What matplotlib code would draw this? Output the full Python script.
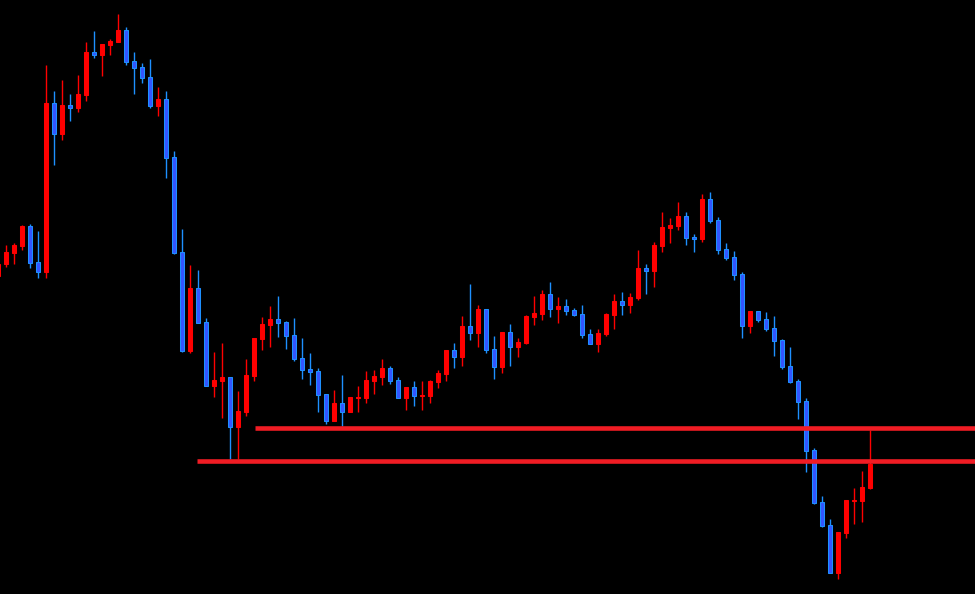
import matplotlib
matplotlib.use("Agg")
import matplotlib.pyplot as plt
import numpy as np

# OHLC values (price units)
opens = [324, 336.3, 347.3, 354.3, 374, 337.7, 328.3, 497, 466.3, 495, 492.3, 505, 548, 545.3, 555.3,
         558.3, 570, 539, 533, 523, 494.3, 501, 443, 348, 249.3, 312, 278, 214.3, 219.3, 223, 173.3,
         188.3, 224.3, 261.3, 275.3, 281, 278, 265, 242, 231, 229, 206, 179.3, 197, 188.3, 202.3,
         202.3, 219.3, 223.3, 232, 220, 202.3, 213, 204.3, 204.3, 218.3, 226.3, 250, 243.3, 274,
         267.3, 291, 251, 233.3, 268, 253.3, 257.3, 283.3, 286.3, 306, 291.3, 294, 290, 286, 266,
         256.3, 266.3, 285.3, 299, 295.3, 302.3, 332, 329.3, 354.3, 372.3, 374.3, 384, 363, 361.3,
         401, 380, 351, 343, 326, 274.3, 289, 281, 272, 260, 234, 219, 199, 150, 98, 75, 26.7, 67.3,
         99.3, 99.3, 112.3]
highs = [338, 354.7, 357, 375, 376, 369, 535, 509, 520, 506, 525, 558, 569, 556, 561,
         586, 573, 548, 537, 541, 513, 509, 449, 371, 335, 330, 282, 248, 257, 223, 209,
         241, 262, 283, 294, 304, 279, 282, 262, 247, 232, 206, 210, 225, 203, 214,
         229, 230, 241, 234, 223, 213, 219, 219, 220, 230, 250, 257, 284, 316,
         295, 291, 264, 268, 276, 262, 285, 304, 310, 318, 303, 301, 292, 295, 271,
         271, 287, 306, 308, 307, 350, 336, 358, 388, 382, 398, 388, 366, 406,
         408, 383, 357, 349, 328, 289, 289, 288, 284, 261, 253, 221, 202, 152, 104, 81, 68, 100,
         112, 129, 170]
lows = [320, 333.3, 336.3, 350.3, 332.3, 322.3, 322.3, 435.3, 460.3, 479.3, 488.3, 499.3, 542.3, 524.3, 545.3,
        558.3, 535.3, 506.3, 517.3, 492.3, 484.3, 422.3, 346.3, 248.3, 247.3, 277.3, 214.3, 203, 182.3, 141, 141,
        184.3, 219.3, 250.3, 253.3, 263.3, 251.3, 239.3, 221.3, 215.3, 188.3, 176.3, 179.3, 174.3, 188.3, 188.3,
        197.3, 206.3, 215.3, 216.3, 202.3, 190.3, 194.3, 190.3, 197.3, 212.3, 219.3, 232.3, 234.3, 260.3,
        253.3, 247.3, 221.3, 227.3, 234.3, 243.3, 256.3, 275.3, 280.3, 283.3, 277.3, 285.3, 284.3, 262.3, 256.3,
        248.3, 264.3, 271.3, 285.3, 287.3, 300.3, 306.3, 313.3, 348.3, 357.3, 370.3, 355.3, 348.3, 358.3,
        377.3, 346.3, 340.3, 320.3, 262.3, 267.3, 278.3, 269.3, 244.3, 231.3, 217.3, 181.3, 128.3, 96.3, 73.3, 26.7, 21.3, 62.3,
        76.3, 78.3, 111]
closes = [336, 348, 355, 374, 337.3, 328.3, 497, 466.3, 495, 492.3, 506, 548, 545.3, 556, 559,
          570, 538.3, 532.3, 522.3, 494.3, 501, 442.3, 347, 249.3, 312, 277.3, 214.3, 220, 223, 173.3, 189,
          225, 262, 276, 281, 277.3, 264.3, 241.3, 230.3, 228.3, 205.3, 179.3, 197, 188.3, 203, 203,
          220, 224, 232, 219.3, 202.3, 213, 204.3, 205, 219, 227, 250, 243.3, 274, 267.3,
          291, 250.3, 233.3, 268, 253.3, 258, 284, 287, 306, 291.3, 294, 289.3, 285.3, 265.3, 256.3,
          267, 286, 299, 295.3, 303, 332, 329.3, 355, 373, 375, 384, 362.3, 361.3, 401,
          379.3, 350.3, 342.3, 325.3, 274.3, 289, 280.3, 271.3, 259.3, 233.3, 218.3, 198.3, 149.3, 97.3, 74.3, 26.7, 68, 100,
          100, 113, 136]

# Horizontal support levels and the candle index where each line begins
level_prices = [171.7, 138.7]
level_starts = [32.1, 24.9]

UP_COLOR = "#ff0000"
DOWN_FILL = "#3355ff"
DOWN_EDGE = "#1e90ff"
LINE_COLOR = "#f01c24"

fig = plt.figure(figsize=(9.75, 5.94), dpi=100, facecolor="black")
ax = fig.add_axes([0, 0, 1, 1])
ax.set_facecolor("black")

o = np.array(opens, dtype=float)
h = np.array(highs, dtype=float)
l = np.array(lows, dtype=float)
c = np.array(closes, dtype=float)
x = np.arange(len(o))
up = c >= o

wick_colors = [UP_COLOR if u else DOWN_EDGE for u in up]
ax.vlines(x, l, h, colors=wick_colors, linewidth=1.0, zorder=2)

bottoms = np.minimum(o, c)
heights = np.abs(c - o)
ax.bar(x[up], heights[up], bottom=bottoms[up], width=0.5, color=UP_COLOR,
       edgecolor=UP_COLOR, linewidth=0.75, zorder=3)
ax.bar(x[~up], heights[~up], bottom=bottoms[~up], width=0.5, color=DOWN_FILL,
       edgecolor=DOWN_EDGE, linewidth=0.75, zorder=3)

xmax = 122.09
for price, start in zip(level_prices, level_starts):
    ax.hlines(price, start, xmax, colors=LINE_COLOR, linewidth=3.3, zorder=4)

ax.set_xlim(0.2125, xmax)
ax.set_ylim(6, 600)
ax.axis("off")

fig.savefig("out.png", dpi=100, facecolor="black")
